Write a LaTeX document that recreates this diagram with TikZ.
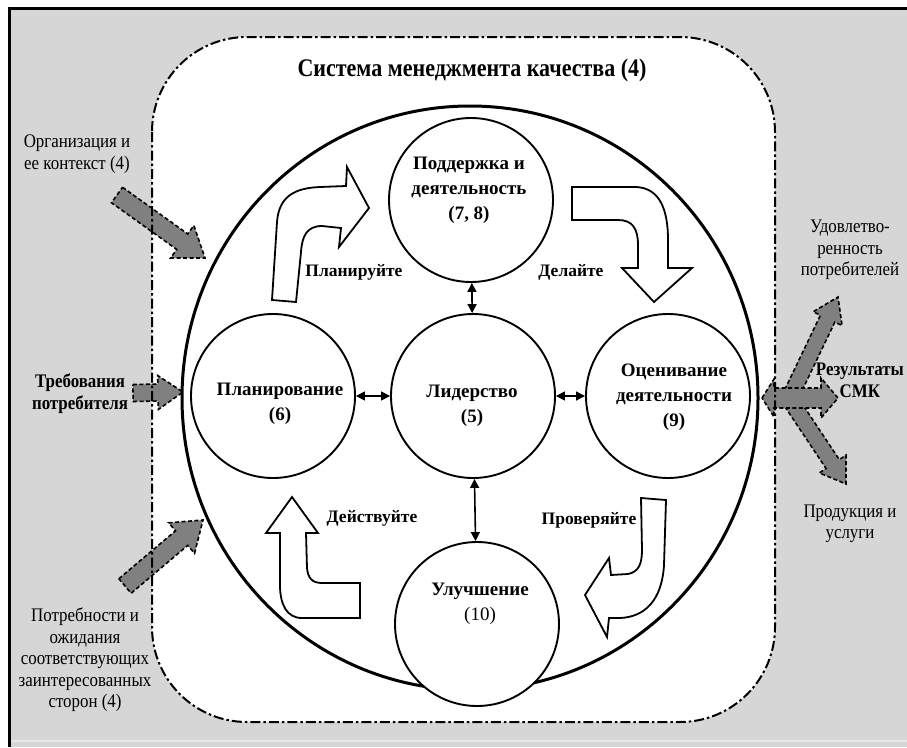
\documentclass[tikz,border=0pt]{standalone}
\usepackage{fontspec}
\setmainfont{Liberation Serif}
\newfontfamily\tallrm{Liberation Serif}[FakeStretch=0.88]
\newfontfamily\titlerm{Liberation Serif}[FakeStretch=0.87]
\usetikzlibrary{calc,arrows.meta}
\definecolor{bggray}{RGB}{214,214,214}
\definecolor{arrgray}{RGB}{128,128,128}
\definecolor{lightline}{RGB}{232,232,232}
\newcommand{\grayarrow}[6]{%
  \coordinate (#1h) at ($(#3)!#6!(#2)$);
  \draw[garrow] ($(#2)!#4!90:(#3)$) -- ($(#1h)!#4!90:(#3)$) -- ($(#1h)!#5!90:(#3)$) -- (#3)
     -- ($(#1h)!#5!-90:(#3)$) -- ($(#1h)!#4!-90:(#3)$) -- ($(#2)!#4!-90:(#3)$) -- cycle;}
\begin{document}
\begin{tikzpicture}[x=1pt,y=-1pt,
  cnode/.style={circle, draw=black, line width=1.9pt, fill=white, minimum size=164pt, inner sep=0pt},
  ctext/.style={align=center, font=\fontsize{19}{25}\selectfont\bfseries, inner sep=0pt},
  lbl/.style={align=center, font=\tallrm\fontsize{19.2}{21.5}\selectfont, inner sep=0pt},
  blbl/.style={align=center, font=\tallrm\fontsize{19.2}{22}\selectfont\bfseries, inner sep=0pt},
  albl/.style={font=\fontsize{17.5}{21}\selectfont\bfseries, inner sep=0pt},
  dbl/.style={line width=1.6pt, {Triangle[length=9pt,width=9pt]}-{Triangle[length=9pt,width=9pt]}},
  barrow/.style={draw=black, fill=white, line width=1.8pt, line join=miter},
  garrow/.style={fill=arrgray, draw=black, line width=1.6pt, dash pattern=on 4pt off 2.5pt, line join=miter},
  frame/.style={draw=black, line width=2pt, dash pattern=on 10pt off 3pt on 2.5pt off 3pt, rounded corners=95pt}]
\useasboundingbox (0,0) rectangle (907,747);
\clip (0,0) rectangle (907,747);
% background
\fill[bggray] (9,8) rectangle (907,747);
\draw[lightline, line width=1.5pt] (10,741) -- (907,741);
\draw[line width=3pt] (9,747) -- (9,8) -- (907,8);
% system area
\fill[white, rounded corners=95pt] (152,37) rectangle (775,722);
% gray input arrows
\coordinate (orgS) at (117,195); \coordinate (orgE) at (205,258);
\grayarrow{org}{orgS}{orgE}{9.5pt}{20pt}{28pt}
\coordinate (reqS) at (133,393); \coordinate (reqE) at (183,392);
\grayarrow{req}{reqS}{reqE}{8.5pt}{17pt}{25pt}
\coordinate (needS) at (125,586); \coordinate (needE) at (203,520);
\grayarrow{need}{needS}{needE}{9.5pt}{20pt}{28pt}
% gray output arrows
\coordinate (satS) at (792,393); \coordinate (satE) at (838,297);
\grayarrow{sat}{satS}{satE}{8pt}{16pt}{24pt}
\coordinate (prodS) at (790,400); \coordinate (prodE) at (846,484);
\grayarrow{prod}{prodS}{prodE}{8pt}{16pt}{24pt}
\draw[garrow] (762,398) -- (774,379) -- (774,388) -- (821,388) -- (821,378) -- (838,398)
  -- (821,418) -- (821,408) -- (774,408) -- (774,417) -- cycle;
% frame
\draw[frame] (152,37) rectangle (775,722);
\node[font=\titlerm\fontsize{25.3}{28}\selectfont\bfseries, inner sep=0pt] (title) at (472,70) {Система менеджмента качества (4)};
% big ellipse
\draw[line width=3pt] (470,398) ellipse [x radius=288, y radius=292];
% circles
\node[cnode] (sup) at (471,200) {};
\node[cnode] (lead) at (473,396) {};
\node[cnode] (plan) at (273,396) {};
\node[cnode] (eval) at (668,396) {};
\node[cnode] (imp) at (477,624) {};
\node[ctext] (supT) at (469,190) {Поддержка и\\деятельность\\(7, 8)};
\node[ctext] (leadT) at (472,406) {Лидерство\\(5)};
\node[ctext] (planT) at (280,404) {Планирование\\(6)};
\node[ctext] (evalT) at (674,397) {Оценивание\\деятельности\\(9)};
\node[ctext] (impT) at (480,604) {Улучшение\\\mdseries(10)};
% double arrows
\draw[dbl] (sup) -- (lead);
\draw[dbl] (plan) -- (lead);
\draw[dbl] (lead) -- (eval);
\draw[dbl] (lead) -- (imp);
% PDCA block arrows
\draw[barrow] (272,300) -- (277,222) .. controls (279,196) and (295,188) .. (320,187) -- (346,186)
  -- (347,167) -- (369,208) -- (339,247) -- (341,228) -- (322,226)
  .. controls (307,226) and (302,236) .. (301,252) -- (296,302) -- cycle;
\draw[barrow] (572,187) -- (636,187) .. controls (660,188) and (668,210) .. (668,240) -- (668,268)
  -- (692,268) -- (654,302) -- (622,268) -- (638,268) -- (638,245)
  .. controls (638,228) and (632,220) .. (618,220) -- (572,220) -- cycle;
\draw[barrow] (641,498) -- (666,500) -- (664,565) .. controls (662,600) and (645,617) .. (620,618)
  -- (609,618) -- (607,637) -- (585,595) -- (609,558) -- (611,575) -- (628,574)
  .. controls (638,572) and (642,565) .. (642,550) -- cycle;
\draw[barrow] (360,618) -- (302,618) .. controls (287,618) and (280,605) .. (280,585) -- (280,533)
  -- (266,533) -- (292,497) -- (318,533) -- (306,533) -- (307,568)
  .. controls (308,578) and (312,583) .. (322,583) -- (360,583) -- cycle;
\node[albl] (pl) at (354,272) {Планируйте};
\node[albl] (dl) at (571,272) {Делайте};
\node[albl] (ch) at (589,520) {Проверяйте};
\node[albl] (ac) at (372,518) {Действуйте};
% outside labels
\node[lbl] (org) at (77,154) {Организация и\\ее контекст (4)};
\node[blbl] (req) at (80,394) {Требования\\потребителя};
\node[lbl] (need) at (85,660) {Потребности и\\ожидания\\соответствующих\\заинтересованных\\сторон (4)};
\node[lbl] (sat) at (850,250) {Удовлетво-\\ренность\\потребителей};
\node[blbl, anchor=east] (res) at (904,380) {Результаты\\СМК};
\node[lbl] (prod) at (850,524) {Продукция и\\услуги};
\end{tikzpicture}
\end{document}
